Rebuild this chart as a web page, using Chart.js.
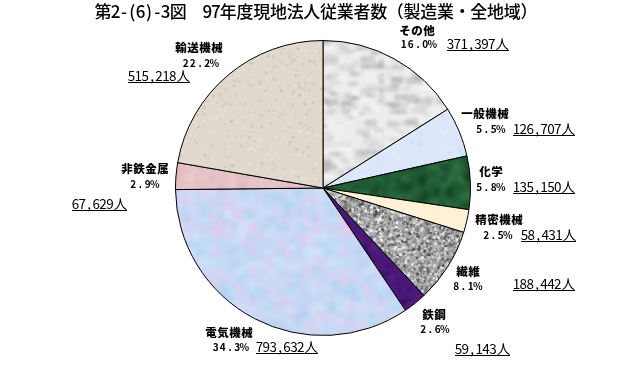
<!DOCTYPE html>
<html>
<head>
<meta charset="utf-8">
<script src="https://cdn.jsdelivr.net/npm/chart.js@4/dist/chart.umd.min.js"></script>
<style>
  html, body { margin: 0; padding: 0; background: #fff; }
  #wrap { width: 642px; height: 372px; }
</style>
</head>
<body>
<div id="wrap"><canvas id="pieGraph" width="642" height="372"></canvas></div>
<script>
// data, clockwise from 12 o'clock
var sectors = ["その他", "一般機械", "化学", "精密機械", "繊維", "鉄鋼", "電気機械", "非鉄金属", "輸送機械"];
var workers = [371397, 126707, 135150, 58431, 188442, 59143, 793632, 67629, 515218];
var shares = ["16.0%", "5.5%", "5.8%", "2.5%", "8.1%", "2.6%", "34.3%", "2.9%", "22.2%"];
var chartTitle = "第2-(6)-3図　97年度現地法人従業者数（製造業・全地域）";

// label spots, relative to the pie centre: [name x, name y, pct x, pct y, number left x, number y]
var labelSpots = [
    [94, -157, 95, -144, 124, -144],
    [162, -74, 167, -59, 190, -59],
    [168, -16, 167, -1, 190, -1],
    [176, 32, 174, 47, 198, 47],
    [145, 84, 144, 98, 190, 96],
    [111, 127, 111, 141, 132, 161],
    [-94, 145, -93, 159, -67, 159],
    [-178, -19, -179, -4, -251, 16],
    [-124, -140, -123, -125, -195, -112]
];

// little seeded noise, only used for the slice textures
function rng(seed){
    return function(){ seed = (seed * 16807) % 2147483647; return (seed - 1) / 2147483646; };
}
function texture(base, spots, count, size, blur, alpha, seed, stretch){
    var T = 128;
    var c = document.createElement('canvas'); c.width = T; c.height = T;
    var g = c.getContext('2d');
    g.fillStyle = base; g.fillRect(0, 0, T, T);
    var n = document.createElement('canvas'); n.width = T; n.height = T;
    var ng = n.getContext('2d');
    var r = rng(seed);
    for (var i = 0; i < count; i++) {
        ng.globalAlpha = alpha * (0.4 + 0.6 * r());
        ng.fillStyle = spots[Math.floor(r() * spots.length)];
        var s = size * (0.5 + r());
        ng.fillRect(r() * T, r() * T, s * (stretch || 1), s);
    }
    if (blur) g.filter = 'blur(' + blur + 'px)';
    // wrapped copies so the tile repeats without seams
    for (var dx = -1; dx <= 1; dx++) {
        for (var dy = -1; dy <= 1; dy++) g.drawImage(n, dx * T, dy * T);
    }
    g.filter = 'none';
    return g.createPattern(c, 'repeat');
}

var fills = [
    texture('#ededed', ['#8a8a8a', '#b0b0b0', '#ffffff'], 300, 5, 1.5, 0.38, 11, 2.2),
    texture('#dce8f9', ['#eef4fd', '#c8d8f2'], 220, 3, 1, 0.6, 23),
    texture('#1d5a31', ['#0c3419', '#3f8050', '#2a6a3c'], 500, 6, 2, 0.7, 37),
    texture('#fff0d6', ['#fff8ea'], 80, 3, 1, 0.5, 41),
    texture('#a6a6a6', ['#3c3c3c', '#ffffff', '#707070', '#d8d8d8'], 4500, 2, 0, 0.8, 53),
    texture('#4a1977', ['#33095c', '#5e2a8c'], 300, 4, 1, 0.7, 67),
    texture('#c8daf5', ['#e4c9ec', '#a9d2f2', '#d6e6fa'], 700, 6, 2.5, 0.7, 71),
    texture('#e6c2c5', ['#d6aeb2', '#f0d4d6'], 250, 5, 2, 0.6, 83),
    texture('#e1d9cd', ['#c4b9ab', '#ece6dc'], 500, 2, 0.5, 0.6, 97)
];

// draws text in fixed cells, half width for ascii, like a gothic bitmap font
function cellText(ctx, text, x, y, font, half, full, align){
    var w = 0, i;
    for (i = 0; i < text.length; i++) w += text.charCodeAt(i) < 256 ? half : full;
    var sx = align === 'center' ? x - w / 2 : (align === 'right' ? x - w : x);
    ctx.font = font;
    ctx.textAlign = 'center';
    ctx.textBaseline = 'middle';
    var cx = sx;
    for (i = 0; i < text.length; i++) {
        var cw = text.charCodeAt(i) < 256 ? half : full;
        ctx.fillText(text[i], cx + cw / 2, y);
        cx += cw;
    }
    return {x: sx, w: w};
}

var labelPlugin = {
    id: 'labelPlugin',
    afterDraw: function(chart){
        var ctx = chart.ctx;
        var arc = chart.getDatasetMeta(0).data[0];
        var cx = arc.x, cy = arc.y;
        ctx.save();
        ctx.fillStyle = '#000';
        cellText(ctx, chartTitle, chart.width / 2 - 5, 12, '500 17px "Noto Sans CJK JP"', 8.35, 16.7, 'center');
        for (var i = 0; i < sectors.length; i++) {
            var p = labelSpots[i];
            cellText(ctx, sectors[i], cx + p[0], cy + p[1], '900 11.5px "Noto Sans CJK JP"', 6, 12, 'center');
            cellText(ctx, shares[i], cx + p[2], cy + p[3], 'bold 10px "Noto Sans CJK JP"', 7.2, 12, 'center');
            var txt = workers[i].toLocaleString('en-US') + '人';
            var box = cellText(ctx, txt, cx + p[4], cy + p[5], '13.5px "Noto Sans CJK JP"', 6.9, 14, 'left');
            ctx.fillRect(Math.round(box.x), Math.round(cy + p[5] + 6), Math.round(box.w), 1);
        }
        ctx.restore();
    }
};

var pieConfig = {
    type: 'pie',
    data: {
        labels: sectors,
        datasets: [{
            data: workers,
            backgroundColor: fills,
            borderColor: '#000',
            borderWidth: 1
        }]
    },
    options: {
        responsive: false,
        animation: false,
        layout: {
            padding: {top: 40, bottom: 36, left: 175, right: 171}
        },
        plugins: {
            legend: {display: false},
            tooltip: {enabled: false},
            title: {display: false}
        }
    },
    plugins: [labelPlugin]
};

var pieCtx = document.getElementById("pieGraph");
var pieChart = new Chart(pieCtx, pieConfig);
</script>
</body>
</html>
